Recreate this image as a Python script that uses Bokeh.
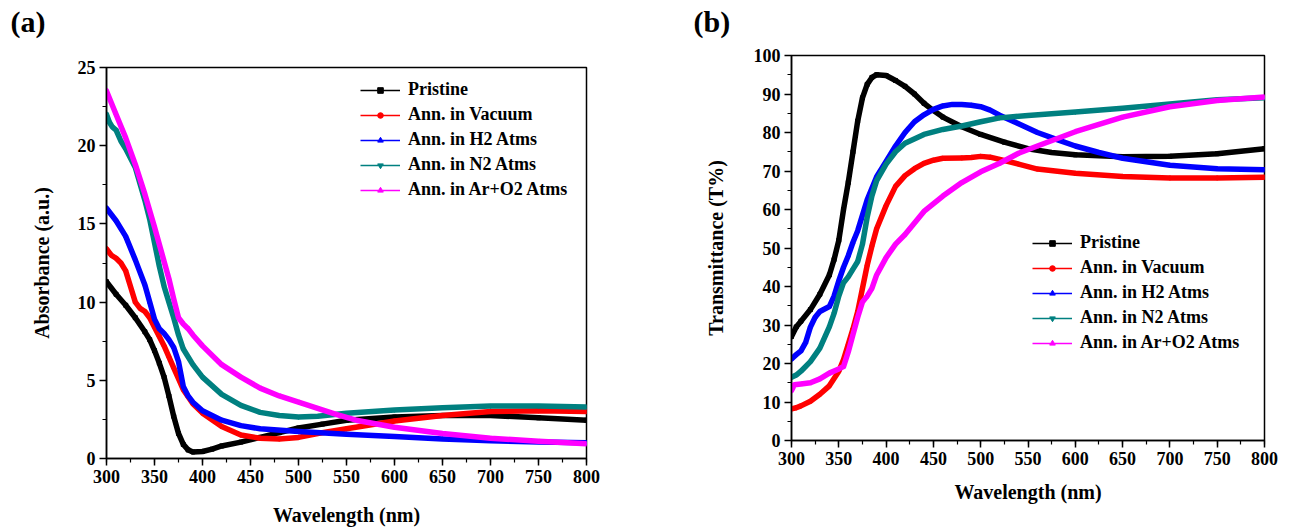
from bokeh.plotting import figure
from bokeh.models import (Range1d, SingleIntervalTicker, Legend, LegendItem, Title)
from bokeh.embed import file_html
from bokeh.resources import INLINE
import numpy as np

# ---------------- data: (a) absorbance ----------------
series_names = ["Pristine", "Ann. in Vacuum", "Ann. in H2 Atms", "Ann. in N2 Atms", "Ann. in Ar+O2 Atms"]
colors = ["#000000", "#FF0000", "#0000FF", "#008080", "#FF00FF"]
markers = ["square", "circle", "triangle", "inverted_triangle", "triangle"]
marker_angles = [0, 0, 0, 0, np.pi / 2]

abs_wl_pristine = [300, 310, 320, 330, 340, 345, 350, 355, 360, 365, 370, 375, 380, 385, 390, 400, 410, 420, 440, 460, 480, 500, 525, 550, 600, 650, 700, 750, 800]
abs_pristine = [11.3, 10.5, 9.8, 9.0, 8.1, 7.6, 6.9, 6.1, 5.2, 4.0, 2.7, 1.6, 0.9, 0.55, 0.42, 0.45, 0.6, 0.8, 1.05, 1.35, 1.65, 1.95, 2.2, 2.45, 2.65, 2.75, 2.75, 2.6, 2.45]

abs_wl_vacuum = [300, 305, 310, 315, 320, 325, 330, 335, 340, 345, 350, 355, 360, 365, 370, 375, 380, 390, 400, 420, 440, 460, 480, 500, 520, 550, 600, 650, 700, 750, 800]
abs_vacuum = [13.4, 13.0, 12.8, 12.5, 12.0, 11.0, 10.0, 9.6, 9.4, 9.0, 8.4, 7.8, 7.2, 6.5, 5.8, 5.1, 4.4, 3.5, 2.9, 2.05, 1.5, 1.3, 1.25, 1.35, 1.6, 1.9, 2.4, 2.75, 3.0, 3.05, 3.0]

abs_wl_h2 = [300, 305, 310, 320, 330, 340, 345, 350, 355, 360, 365, 370, 375, 380, 385, 390, 400, 420, 440, 460, 500, 550, 600, 650, 700, 750, 800]
abs_h2 = [16.0, 15.6, 15.2, 14.2, 12.7, 11.1, 10.0, 8.9, 8.3, 8.0, 7.6, 7.1, 6.2, 4.6, 4.0, 3.6, 3.05, 2.45, 2.1, 1.9, 1.72, 1.55, 1.4, 1.25, 1.13, 1.05, 1.0]

abs_wl_n2 = [300, 303, 306, 310, 315, 320, 330, 340, 345, 350, 355, 360, 365, 370, 375, 380, 390, 400, 420, 440, 460, 480, 500, 520, 550, 600, 650, 700, 750, 800]
abs_n2 = [22.0, 21.5, 21.2, 21.0, 20.3, 19.8, 18.6, 16.5, 15.3, 13.8, 12.3, 11.0, 10.0, 9.0, 7.9, 7.0, 6.0, 5.2, 4.1, 3.4, 2.95, 2.75, 2.65, 2.7, 2.9, 3.1, 3.25, 3.35, 3.35, 3.3]

abs_wl_aro2 = [300, 310, 320, 330, 340, 350, 360, 365, 370, 375, 380, 385, 390, 400, 420, 440, 460, 480, 500, 520, 540, 560, 600, 650, 700, 750, 800]
abs_aro2 = [23.5, 22.0, 20.5, 18.8, 16.9, 14.8, 12.6, 11.5, 10.2, 9.0, 8.6, 8.3, 7.9, 7.2, 6.0, 5.2, 4.5, 4.0, 3.6, 3.2, 2.8, 2.45, 2.0, 1.6, 1.3, 1.1, 0.95]

# ---------------- data: (b) transmittance ----------------
tr_wl_pristine = [300, 305, 310, 320, 330, 340, 345, 350, 355, 360, 365, 370, 375, 380, 385, 390, 400, 410, 420, 430, 440, 450, 460, 480, 500, 525, 550, 575, 600, 650, 700, 750, 800]
tr_pristine = [27, 29.5, 31, 34, 38, 43, 47, 52, 60, 67, 75, 83, 89, 92.5, 94.3, 95, 94.8, 93.5, 92, 90, 87.6, 85.7, 84, 81.5, 79.5, 77.5, 75.8, 74.8, 74.2, 73.7, 73.8, 74.5, 75.8]

tr_wl_vacuum = [300, 305, 310, 320, 330, 340, 350, 355, 360, 365, 370, 375, 380, 385, 390, 400, 410, 420, 430, 440, 450, 460, 480, 490, 500, 510, 520, 540, 560, 600, 650, 700, 750, 800]
tr_vacuum = [8.2, 8.5, 9.0, 10.2, 12.0, 14.2, 18.0, 21.0, 25.0, 29.0, 33.5, 39.5, 45.5, 50.5, 55.0, 61.0, 66.0, 68.8, 70.6, 72.0, 72.8, 73.3, 73.4, 73.5, 73.8, 73.6, 73.0, 71.8, 70.5, 69.4, 68.6, 68.2, 68.2, 68.4]

tr_wl_h2 = [300, 305, 310, 315, 320, 325, 330, 340, 345, 350, 355, 360, 365, 370, 380, 390, 400, 410, 420, 430, 440, 450, 460, 470, 480, 490, 500, 510, 520, 540, 560, 580, 600, 625, 650, 700, 750, 800]
tr_h2 = [21.2, 22.3, 23.3, 25.5, 29.5, 32.0, 33.5, 34.8, 37.5, 41.5, 45.0, 48.0, 51.5, 54.5, 62.5, 68.5, 72.5, 76.5, 80.0, 82.8, 84.6, 86.0, 86.9, 87.3, 87.3, 87.1, 86.7, 85.8, 84.5, 82.3, 80.0, 78.2, 76.5, 74.8, 73.3, 71.5, 70.6, 70.3]

tr_wl_n2 = [300, 305, 310, 320, 330, 340, 345, 350, 355, 360, 365, 370, 375, 380, 385, 390, 400, 410, 420, 440, 460, 480, 500, 520, 550, 600, 650, 700, 750, 800]
tr_n2 = [16.4, 17.0, 18.0, 20.5, 24.0, 29.5, 33.0, 37.5, 41.0, 42.5, 44.5, 46.5, 51.0, 58.0, 63.5, 67.5, 71.8, 75.0, 77.2, 79.5, 80.8, 81.7, 82.8, 83.8, 84.4, 85.3, 86.3, 87.4, 88.5, 89.0]

tr_wl_aro2 = [300, 303, 310, 320, 330, 340, 350, 355, 360, 365, 370, 375, 380, 385, 390, 400, 410, 420, 440, 460, 480, 500, 520, 540, 560, 600, 650, 700, 750, 800]
tr_aro2 = [13.0, 14.5, 14.7, 15.0, 16.0, 17.5, 18.6, 19.2, 23.0, 27.5, 32.0, 36.0, 37.5, 39.5, 43.0, 47.5, 51.0, 53.5, 59.5, 63.5, 67.0, 69.8, 72.0, 74.6, 76.5, 80.2, 84.0, 86.7, 88.3, 89.2]

abs_series = [(abs_wl_pristine, abs_pristine), (abs_wl_vacuum, abs_vacuum), (abs_wl_h2, abs_h2),
              (abs_wl_n2, abs_n2), (abs_wl_aro2, abs_aro2)]
tr_series = [(tr_wl_pristine, tr_pristine), (tr_wl_vacuum, tr_vacuum), (tr_wl_h2, tr_h2),
             (tr_wl_n2, tr_n2), (tr_wl_aro2, tr_aro2)]

FONT = "Liberation Serif"


def style(p, y_interval, ylabel, y_standoff, x_standoff):
    p.outline_line_color = "#000000"
    p.outline_line_width = 1.5
    p.outline_line_alpha = 1
    p.xgrid.visible = False
    p.ygrid.visible = False
    p.xaxis.ticker = SingleIntervalTicker(interval=50, num_minor_ticks=2)
    p.yaxis.ticker = SingleIntervalTicker(interval=y_interval, num_minor_ticks=2)
    for ax in (p.xaxis[0], p.yaxis[0]):
        ax.axis_line_color = "#000000"
        ax.axis_line_width = 1.5
        ax.major_tick_line_color = "#000000"
        ax.major_tick_line_width = 1.5
        ax.minor_tick_line_color = "#000000"
        ax.minor_tick_line_width = 1.2
        ax.major_tick_in = 0
        ax.major_tick_out = 7
        ax.minor_tick_in = 0
        ax.minor_tick_out = 4
        ax.major_label_text_font = FONT
        ax.major_label_text_font_style = "bold"
        ax.major_label_text_font_size = "18px"
        ax.major_label_text_color = "#000000"
        ax.major_label_standoff = 4
        ax.axis_label_text_font = FONT
        ax.axis_label_text_font_style = "bold"
        ax.axis_label_text_font_size = "20px"
        ax.axis_label_text_color = "#000000"
    p.xaxis.axis_label = "Wavelength (nm)"
    p.yaxis.axis_label = ylabel
    p.yaxis.axis_label_standoff = y_standoff
    p.xaxis.axis_label_standoff = x_standoff


def add_curves(p, series, loc):
    items = []
    for (xs, ys), c, m, a, name in zip(series, colors, markers, marker_angles, series_names):
        thin = p.line(xs, ys, line_color=c, line_width=1.5)
        p.line(xs, ys, line_color=c, line_width=5.5, line_join="round", line_cap="round")
        pts = p.scatter(xs, ys, marker=m, angle=a, fill_color=c, line_color=c, size=4)
        items.append(LegendItem(label=name, renderers=[thin, pts]))
    leg = Legend(items=items, location=loc)
    leg.border_line_color = None
    leg.background_fill_alpha = 0
    leg.label_text_font = FONT
    leg.label_text_font_style = "bold"
    leg.label_text_font_size = "18px"
    leg.label_text_color = "#000000"
    leg.glyph_width = 40
    leg.glyph_height = 14
    leg.label_height = 14
    leg.label_standoff = 8
    leg.spacing = 4
    leg.padding = 0
    leg.margin = 0
    p.add_layout(leg, "center")


def panel_letter(p, text, offset, gap):
    # spacer title next to the frame, then the panel letter above it
    p.add_layout(Title(text=" ", text_font_size="2px", standoff=gap), "above")
    p.add_layout(Title(text=text, align="left", offset=offset, standoff=0,
                       text_font=FONT, text_font_style="bold", text_font_size="30px",
                       text_color="#000000"), "above")


# ---------------- panel (a) ----------------
pa = figure(width=648, height=528, x_range=Range1d(300, 800), y_range=Range1d(0, 25),
            output_backend="svg", toolbar_location=None,
            min_border_left=106, min_border_right=62, min_border_top=67, min_border_bottom=70)
style(pa, 5, "Absorbance (a.u.)", 22, 18)
add_curves(pa, abs_series, (254, 258))
panel_letter(pa, "(a)", -96, 26)

# ---------------- panel (b) ----------------
pb = figure(width=634, height=528, x_range=Range1d(300, 800), y_range=Range1d(0, 100),
            output_backend="svg", toolbar_location=None,
            min_border_left=143, min_border_right=18, min_border_top=55, min_border_bottom=88)
style(pb, 10, "Transmittance (T%)", 24, 13)
add_curves(pb, tr_series, (241, 87))
panel_letter(pb, "(b)", -98, 14)

TEMPLATE = """
{% block contents %}
<div style="display:flex;flex-direction:row;align-items:flex-start;">
{{ super() }}
</div>
{% endblock %}
"""

open("out.html", "w").write(file_html([pa, pb], INLINE, template=TEMPLATE))
